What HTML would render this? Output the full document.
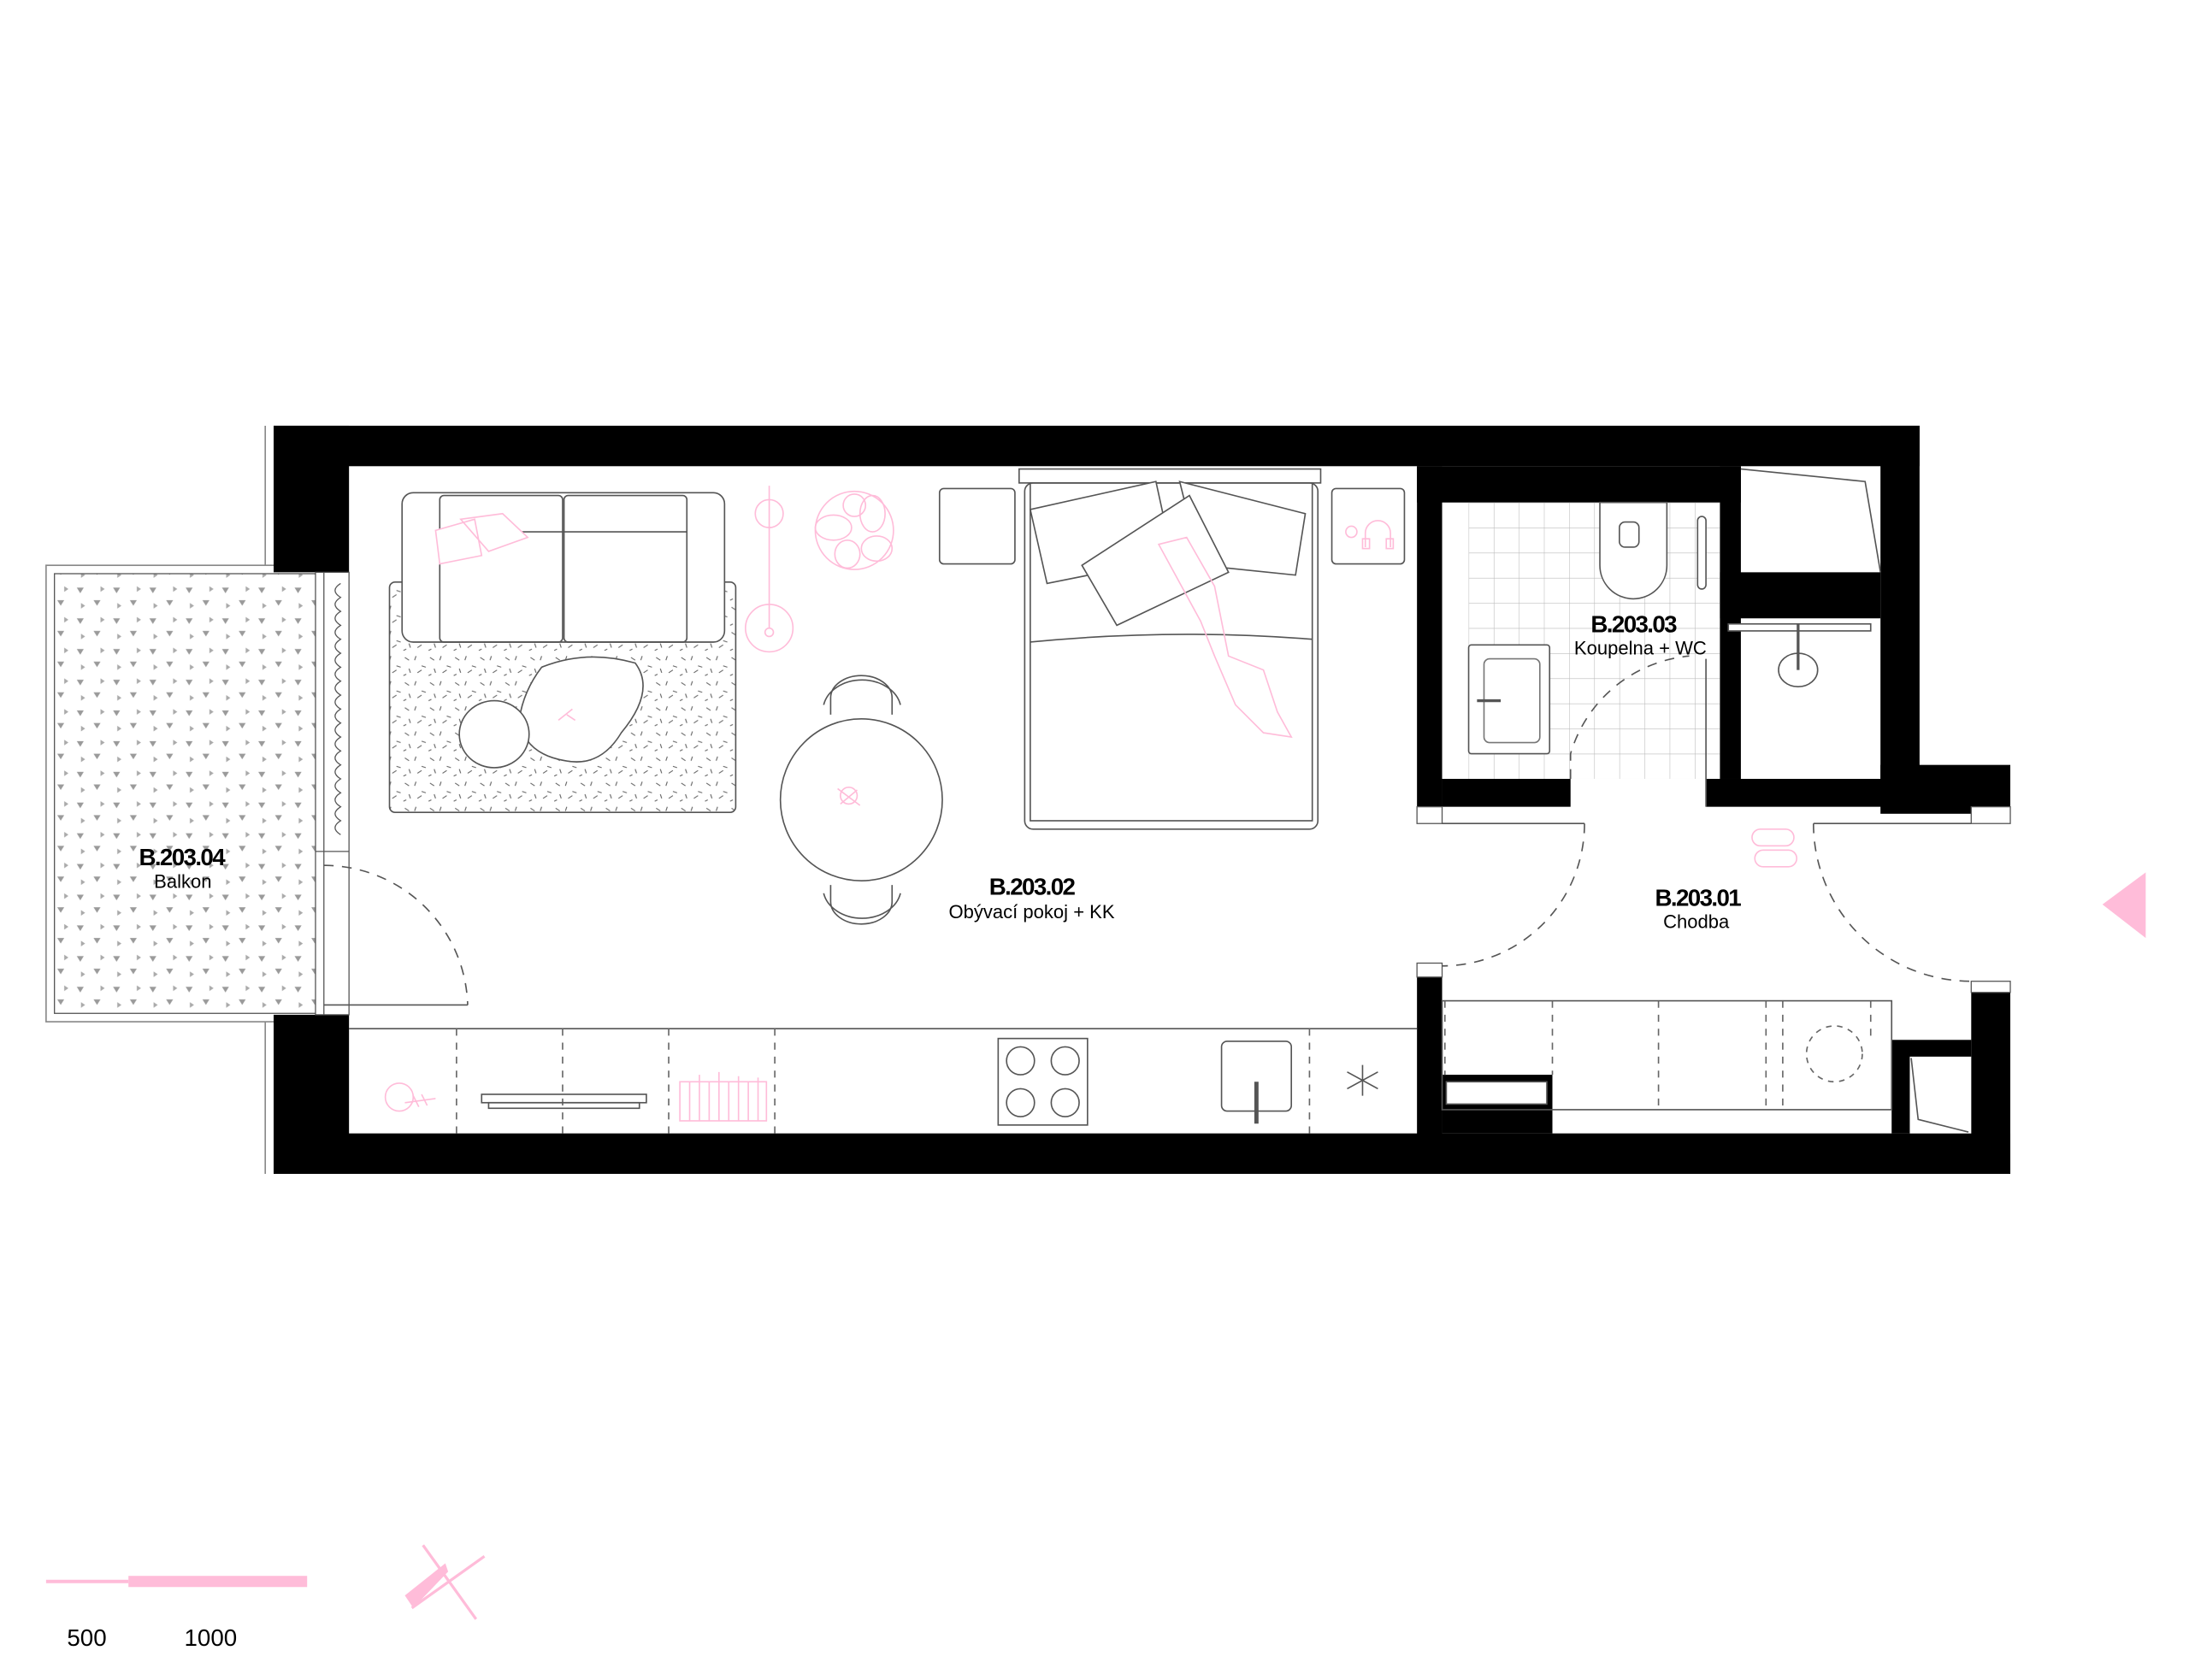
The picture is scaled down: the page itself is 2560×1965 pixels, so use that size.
<!DOCTYPE html>
<html><head><meta charset="utf-8"><style>
html,body{margin:0;padding:0;background:#fff}
svg{display:block}
text{font-family:"Liberation Sans",sans-serif}
</style></head><body>
<svg width="2560" height="1965" viewBox="0 0 1568 1203.6" preserveAspectRatio="none" xmlns="http://www.w3.org/2000/svg">
<defs>
<pattern id="tri" width="26" height="22" patternUnits="userSpaceOnUse">
<polygon points="3,3 8,3 5.5,7" fill="#9a9a9a"/>
<polygon points="15,12 20,12 17.5,16" fill="#9a9a9a"/>
<polygon points="20,2 23,4 20,6" fill="#aaa"/>
<polygon points="6,14 9,16 6,18" fill="#aaa"/>
</pattern>
<pattern id="rug" width="18" height="18" patternUnits="userSpaceOnUse">
<path d="M2 3l3 2M10 2l-1 3M14 9l3 1M5 11l1 3M11 14l3-2M1 16l2-1" stroke="#666" stroke-width="0.7"/>
</pattern>
<pattern id="tile" width="18" height="18" patternUnits="userSpaceOnUse" x="1052" y="360">
<path d="M0 0H18M0 0V18" stroke="#bbb" stroke-width="0.7" fill="none"/>
</pattern>
</defs>
<rect width="1568" height="1203.6" fill="#fff"/>

<rect x="33" y="405" width="195" height="327" fill="none" stroke="#888" stroke-width="1"/>
<rect x="39" y="411" width="188" height="315" fill="url(#tri)" stroke="#555" stroke-width="0.8"/>
<line x1="190" y1="305" x2="190" y2="405" stroke="#888"/>
<line x1="190" y1="732" x2="190" y2="841" stroke="#888"/>

<g fill="#000">
<rect x="196" y="305" width="1179" height="29"/>
<rect x="196" y="305" width="54" height="105"/>
<rect x="196" y="727" width="54" height="114"/>
<rect x="196" y="812" width="1244" height="29"/>
<rect x="1015" y="334" width="18" height="249"/>
<rect x="1015" y="334" width="232" height="26"/>
<rect x="1232" y="334" width="15" height="224"/>
<rect x="1232" y="410" width="115" height="33"/>
<rect x="1347" y="305" width="28" height="253"/>
<rect x="1347" y="548" width="93" height="35"/>
<rect x="1033" y="558" width="92" height="20"/>
<rect x="1222" y="558" width="190" height="20"/>
<rect x="1015" y="695" width="18" height="146"/>
<rect x="1412" y="708" width="28" height="133"/>
<rect x="1033" y="770" width="79" height="42"/>
<rect x="1355" y="745" width="57" height="67"/>
</g>
<g fill="#fff" stroke="#555" stroke-width="0.8">
<rect x="226" y="410" width="24" height="317"/>
<rect x="1015" y="578" width="18" height="12"/>
<rect x="1412" y="578" width="28" height="12"/>
<rect x="1015" y="690" width="18" height="10"/>
<rect x="1412" y="703" width="28" height="8"/>
</g>
<line x1="232" y1="410" x2="232" y2="727" stroke="#555" stroke-width="0.8"/>
<line x1="226" y1="610" x2="250" y2="610" stroke="#555" stroke-width="0.8"/>
<path d="M244 418 q-8 5 0 10 q-8 5 0 10 q-8 5 0 10 q-8 5 0 10 q-8 5 0 10 q-8 5 0 10 q-8 5 0 10 q-8 5 0 10 q-8 5 0 10 q-8 5 0 10 q-8 5 0 10 q-8 5 0 10 q-8 5 0 10 q-8 5 0 10 q-8 5 0 10 q-8 5 0 10 q-8 5 0 10 q-8 5 0 10" fill="none" stroke="#555" stroke-width="0.8"/>

<path d="M232 620 A103 103 0 0 1 335 720" fill="none" stroke="#555" stroke-dasharray="7 6"/>
<line x1="232" y1="720" x2="335" y2="720" stroke="#555"/>

<rect x="1052" y="360" width="180" height="198" fill="url(#tile)"/>
<rect x="1052" y="462" width="58" height="78" rx="2" fill="#fff" stroke="#555"/>
<rect x="1063" y="472" width="40" height="60" rx="4" fill="none" stroke="#777"/>
<line x1="1058" y1="502" x2="1075" y2="502" stroke="#555" stroke-width="2"/>
<path d="M1146 360 V405 A24 24 0 0 0 1194 405 V360 Z" fill="#fff" stroke="#555"/>
<rect x="1160" y="374" width="14" height="18" rx="4" fill="none" stroke="#555"/>
<rect x="1216" y="370" width="6" height="52" rx="3" fill="#fff" stroke="#555"/>
<path d="M1125 558 V540 A98 98 0 0 1 1210 470" fill="none" stroke="#555" stroke-dasharray="7 6"/>
<line x1="1222" y1="472" x2="1222" y2="578" stroke="#555"/>
<path d="M1247 336 L1336 345 L1347 410" fill="none" stroke="#555"/>
<rect x="1238" y="447" width="102" height="5" fill="#fff" stroke="#555"/>
<line x1="1288" y1="447" x2="1288" y2="480" stroke="#555" stroke-width="2"/>
<ellipse cx="1288" cy="480" rx="14" ry="12" fill="none" stroke="#555"/>

<line x1="250" y1="737" x2="1015" y2="737" stroke="#555"/>
<g stroke="#666" stroke-dasharray="5 5">
<line x1="327" y1="737" x2="327" y2="812"/><line x1="403" y1="737" x2="403" y2="812"/>
<line x1="479" y1="737" x2="479" y2="812"/><line x1="555" y1="737" x2="555" y2="812"/>
<line x1="938" y1="737" x2="938" y2="812"/>
</g>
<rect x="715" y="744" width="64" height="62" fill="none" stroke="#555"/>
<g fill="none" stroke="#555"><circle cx="731" cy="760" r="10"/><circle cx="763" cy="760" r="10"/><circle cx="731" cy="790" r="10"/><circle cx="763" cy="790" r="10"/></g>
<rect x="875" y="746" width="50" height="50" rx="4" fill="none" stroke="#555"/>
<line x1="900" y1="775" x2="900" y2="805" stroke="#555" stroke-width="3"/>
<path d="M976 763v22M965 768l22 12M965 780l22-12" stroke="#555"/>
<rect x="345" y="784" width="118" height="6" fill="none" stroke="#555"/>
<rect x="350" y="790" width="108" height="4" fill="none" stroke="#555"/>
<g fill="none" stroke="#ffbcd9"><rect x="487" y="775" width="62" height="28"/>
<path d="M494 775v28M501 770v33M508 775v28M515 768v35M522 775v28M529 771v32M536 775v28M543 772v31"/>
<circle cx="286" cy="786" r="10"/><path d="M290 790l22-3M296 785l4 8M302 784l4 8"/></g>

<rect x="279" y="417" width="248" height="165" rx="4" fill="url(#rug)" stroke="#555"/>
<rect x="288" y="353" width="231" height="107" rx="8" fill="#fff" stroke="#555"/>
<rect x="315" y="355" width="88" height="105" rx="3" fill="none" stroke="#555"/>
<rect x="404" y="355" width="88" height="105" rx="3" fill="none" stroke="#555"/>
<line x1="315" y1="381" x2="492" y2="381" stroke="#555"/>
<path d="M312 380 L340 372 L345 398 L315 404 Z M330 372 L360 368 L378 385 L350 395 Z" fill="#fff" stroke="#ffbcd9"/>
<path d="M388 478 Q420 465 455 475 Q470 495 445 525 Q430 550 405 545 Q375 540 372 515 Q375 495 388 478Z" fill="#fff" stroke="#555"/>
<ellipse cx="354" cy="526" rx="25" ry="24" fill="#fff" stroke="#555"/>
<path d="M400 516l10-8M406 512l6 4" stroke="#ffbcd9"/>
<line x1="551" y1="348" x2="551" y2="450" stroke="#ffbcd9"/>
<circle cx="551" cy="368" r="10" fill="none" stroke="#ffbcd9"/>
<circle cx="551" cy="450" r="17" fill="none" stroke="#ffbcd9"/>
<circle cx="551" cy="453" r="3" fill="none" stroke="#ffbcd9"/>
<g fill="none" stroke="#ffbcd9"><circle cx="612" cy="380" r="28"/><ellipse cx="597" cy="378" rx="13" ry="9"/><ellipse cx="625" cy="368" rx="9" ry="13"/><ellipse cx="628" cy="393" rx="11" ry="9"/><ellipse cx="607" cy="397" rx="9" ry="10"/><ellipse cx="612" cy="362" rx="8" ry="8"/></g>

<ellipse cx="617" cy="573" rx="58" ry="58" fill="#fff" stroke="#555"/>
<path d="M595 512 V500 A22 16 0 0 1 639 500 V512" fill="none" stroke="#555"/>
<path d="M590 505 A28 22 0 0 1 645 505" fill="none" stroke="#555"/>
<path d="M595 634 V646 A22 16 0 0 0 639 646 V634" fill="none" stroke="#555"/>
<path d="M590 640 A28 22 0 0 0 645 640" fill="none" stroke="#555"/>
<g fill="none" stroke="#ffbcd9"><circle cx="608" cy="570" r="6"/><path d="M600 565l16 12M602 576l12-10"/></g>

<rect x="673" y="350" width="54" height="54" rx="3" fill="none" stroke="#555"/>
<rect x="954" y="350" width="52" height="54" rx="3" fill="none" stroke="#555"/>
<g fill="none" stroke="#ffbcd9"><circle cx="968" cy="381" r="4"/><path d="M978 392 V382 A9 9 0 0 1 996 382 V392"/><rect x="976" y="386" width="5" height="7"/><rect x="993" y="386" width="5" height="7"/></g>
<rect x="730" y="336" width="216" height="10" fill="#fff" stroke="#555"/>
<rect x="734" y="346" width="210" height="248" rx="6" fill="#fff" stroke="#555"/>
<rect x="738" y="346" width="202" height="242" fill="none" stroke="#555"/>
<path d="M738 460 Q840 450 940 458" fill="none" stroke="#555"/>
<path d="M738 365 L828 345 L840 400 L750 418 Z" fill="#fff" stroke="#555"/>
<path d="M845 345 L935 368 L928 412 L860 405 Z" fill="#fff" stroke="#555"/>
<path d="M775 405 L852 355 L880 410 L800 448 Z" fill="#fff" stroke="#555"/>
<path d="M830 390 L850 385 L870 420 L880 470 L905 480 L915 510 L925 528 L905 525 L885 505 L870 470 L860 445 Z" fill="none" stroke="#ffbcd9"/>

<line x1="1033" y1="590" x2="1135" y2="590" stroke="#555"/>
<line x1="1299" y1="590" x2="1412" y2="590" stroke="#555"/>
<path d="M1135 590 A102 102 0 0 1 1033 692" fill="none" stroke="#555" stroke-dasharray="7 6"/>
<path d="M1299 590 A113 113 0 0 0 1412 703" fill="none" stroke="#555" stroke-dasharray="7 6"/>
<rect x="1033" y="717" width="322" height="78" fill="none" stroke="#555"/>
<g stroke="#666" stroke-dasharray="5 5"><line x1="1035" y1="717" x2="1035" y2="770"/><line x1="1112" y1="717" x2="1112" y2="770"/><line x1="1188" y1="717" x2="1188" y2="795"/><line x1="1265" y1="717" x2="1265" y2="795"/><line x1="1277" y1="717" x2="1277" y2="795"/><line x1="1340" y1="717" x2="1340" y2="745"/></g>
<circle cx="1314" cy="755" r="20" fill="none" stroke="#666" stroke-dasharray="4 4"/>
<rect x="1036" y="775" width="72" height="16" fill="#fff" stroke="#555"/>
<rect x="1368" y="757" width="44" height="55" fill="#fff" stroke="none"/>
<path d="M1369 758 L1374 802 L1410 811" fill="none" stroke="#555"/>
<g fill="none" stroke="#ffbcd9"><rect x="1255" y="594" width="30" height="12" rx="6"/><rect x="1257" y="609" width="30" height="12" rx="6"/></g>

<g text-anchor="middle" fill="#000">
<text x="739" y="641" font-size="17" font-weight="bold" letter-spacing="-1">B.203.02</text>
<text x="739" y="658" font-size="13.5">Obývací pokoj + KK</text>
<text x="1170" y="453" font-size="17" font-weight="bold" letter-spacing="-1">B.203.03</text>
<text x="1175" y="469" font-size="13.5">Koupelna + WC</text>
<text x="1216" y="649" font-size="17" font-weight="bold" letter-spacing="-1">B.203.01</text>
<text x="1215" y="665" font-size="13.5">Chodba</text>
<text x="130" y="620" font-size="17" font-weight="bold" letter-spacing="-1">B.203.04</text>
<text x="131" y="636" font-size="13.5">Balkon</text>
</g>

<polygon points="1506,648 1537,625 1537,672" fill="#ffbcd9"/>

<line x1="33" y1="1133" x2="92" y2="1133" stroke="#ffbcd9" stroke-width="2.5"/>
<rect x="92" y="1129" width="128" height="8" fill="#ffbcd9"/>
<text x="48" y="1179" font-size="17">500</text>
<text x="132" y="1179" font-size="17">1000</text>
<line x1="303" y1="1107" x2="341" y2="1160" stroke="#ffbcd9" stroke-width="2"/>
<line x1="347" y1="1115" x2="295" y2="1152" stroke="#ffbcd9" stroke-width="2"/>
<polygon points="290,1143 319,1120 321,1126 296,1152" fill="#ffbcd9"/>
</svg>
</body></html>
